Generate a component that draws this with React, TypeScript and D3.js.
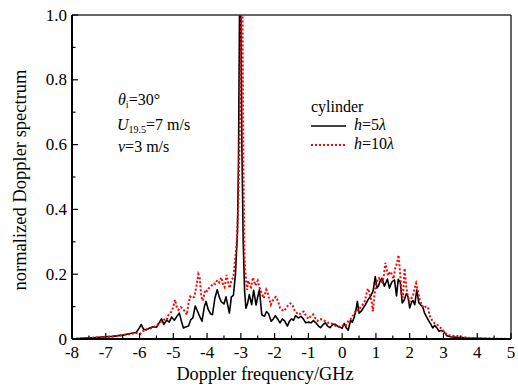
import React from "react";
import * as d3 from "d3";

const freq5 = [-8,-7.7,-7.4,-7.1,-6.8,-6.5,-6.3,-6.1,-6.0,-5.95,-5.88,-5.8,-5.7,-5.6,-5.5,-5.42,-5.35,-5.28,-5.2,-5.12,-5.05,-4.97,-4.88,-4.82,-4.76,-4.7,-4.62,-4.55,-4.48,-4.42,-4.35,-4.28,-4.22,-4.15,-4.08,-4.03,-3.97,-3.9,-3.84,-3.77,-3.7,-3.64,-3.58,-3.5,-3.44,-3.38,-3.34,-3.28,-3.22,-3.16,-3.1,-3.07,-3.04,-3.0,-2.97,-2.93,-2.89,-2.85,-2.8,-2.75,-2.68,-2.62,-2.55,-2.5,-2.45,-2.38,-2.3,-2.24,-2.18,-2.1,-2.04,-1.98,-1.9,-1.84,-1.77,-1.7,-1.62,-1.56,-1.5,-1.44,-1.38,-1.3,-1.22,-1.15,-1.08,-1.0,-0.92,-0.85,-0.78,-0.7,-0.64,-0.56,-0.5,-0.43,-0.36,-0.28,-0.2,-0.12,-0.05,0.0,0.06,0.12,0.18,0.25,0.3,0.36,0.41,0.45,0.5,0.56,0.62,0.69,0.75,0.8,0.86,0.92,0.98,1.03,1.08,1.12,1.18,1.25,1.3,1.34,1.4,1.44,1.48,1.55,1.61,1.66,1.72,1.78,1.84,1.9,1.95,2.0,2.06,2.1,2.15,2.21,2.27,2.33,2.38,2.44,2.5,2.57,2.63,2.68,2.74,2.8,2.87,2.95,3.02,3.1,3.2,3.4,3.7,4.0,4.5,5.0];
const spec5 = [0.0,0.002,0.004,0.006,0.008,0.012,0.016,0.02,0.035,0.045,0.03,0.028,0.034,0.038,0.036,0.05,0.062,0.045,0.058,0.052,0.068,0.058,0.072,0.08,0.055,0.034,0.038,0.04,0.06,0.065,0.102,0.085,0.07,0.055,0.1,0.116,0.092,0.078,0.075,0.125,0.152,0.13,0.115,0.108,0.13,0.1,0.08,0.13,0.135,0.2,0.33,0.55,1.0,1.0,0.6,0.3,0.15,0.095,0.11,0.137,0.106,0.15,0.105,0.13,0.152,0.075,0.07,0.085,0.078,0.055,0.062,0.072,0.06,0.05,0.062,0.055,0.04,0.055,0.062,0.058,0.072,0.065,0.07,0.062,0.05,0.052,0.05,0.057,0.05,0.04,0.035,0.045,0.05,0.04,0.035,0.045,0.045,0.038,0.036,0.033,0.048,0.035,0.027,0.058,0.052,0.068,0.09,0.116,0.08,0.085,0.095,0.106,0.118,0.126,0.135,0.15,0.193,0.157,0.165,0.178,0.188,0.163,0.175,0.185,0.157,0.168,0.177,0.182,0.133,0.184,0.176,0.111,0.121,0.14,0.13,0.096,0.115,0.118,0.106,0.152,0.112,0.105,0.1,0.08,0.068,0.055,0.045,0.034,0.042,0.035,0.024,0.026,0.022,0.01,0.007,0.005,0.003,0.002,0.001,0.0];

const freq10 = [-8,-7.7,-7.4,-7.1,-6.8,-6.5,-6.3,-6.1,-5.98,-5.9,-5.8,-5.7,-5.6,-5.5,-5.42,-5.35,-5.28,-5.2,-5.14,-5.05,-5.0,-4.95,-4.9,-4.85,-4.78,-4.72,-4.66,-4.6,-4.55,-4.5,-4.44,-4.38,-4.32,-4.26,-4.22,-4.17,-4.12,-4.06,-4.0,-3.95,-3.88,-3.82,-3.76,-3.7,-3.64,-3.58,-3.53,-3.48,-3.42,-3.37,-3.33,-3.28,-3.22,-3.17,-3.12,-3.08,-3.04,-2.99,-2.95,-2.92,-2.89,-2.86,-2.82,-2.78,-2.73,-2.7,-2.64,-2.57,-2.5,-2.46,-2.42,-2.36,-2.32,-2.25,-2.19,-2.15,-2.11,-2.06,-2.02,-1.96,-1.92,-1.88,-1.84,-1.78,-1.72,-1.66,-1.59,-1.53,-1.47,-1.4,-1.34,-1.28,-1.2,-1.14,-1.07,-1.0,-0.93,-0.86,-0.8,-0.73,-0.66,-0.58,-0.5,-0.42,-0.34,-0.26,-0.18,-0.1,-0.02,0.04,0.1,0.18,0.24,0.3,0.36,0.42,0.48,0.54,0.6,0.66,0.72,0.76,0.8,0.84,0.88,0.91,0.95,0.99,1.04,1.09,1.14,1.19,1.24,1.28,1.32,1.36,1.42,1.47,1.52,1.57,1.62,1.67,1.72,1.76,1.8,1.85,1.9,1.94,1.99,2.04,2.09,2.14,2.19,2.24,2.3,2.36,2.42,2.48,2.54,2.6,2.66,2.72,2.8,2.88,2.96,3.04,3.12,3.25,3.4,3.55,3.65,3.8,4.0,4.5,5.0];
const spec10 = [0.0,0.002,0.004,0.006,0.008,0.012,0.015,0.019,0.016,0.024,0.03,0.032,0.035,0.042,0.048,0.055,0.06,0.058,0.075,0.085,0.1,0.121,0.1,0.09,0.098,0.095,0.085,0.075,0.11,0.131,0.126,0.13,0.16,0.2,0.19,0.13,0.118,0.152,0.148,0.157,0.162,0.172,0.17,0.182,0.175,0.19,0.17,0.16,0.198,0.17,0.157,0.182,0.19,0.245,0.3,0.4,0.6,1.0,1.0,0.5,0.25,0.2,0.152,0.18,0.165,0.16,0.19,0.165,0.18,0.162,0.152,0.135,0.126,0.152,0.137,0.12,0.106,0.118,0.126,0.13,0.122,0.11,0.096,0.09,0.086,0.095,0.106,0.11,0.105,0.086,0.08,0.075,0.082,0.085,0.072,0.062,0.07,0.076,0.065,0.056,0.062,0.06,0.055,0.05,0.05,0.045,0.04,0.038,0.04,0.043,0.04,0.055,0.06,0.068,0.08,0.09,0.088,0.098,0.105,0.112,0.14,0.156,0.145,0.132,0.11,0.085,0.13,0.165,0.18,0.188,0.18,0.175,0.2,0.235,0.215,0.196,0.208,0.2,0.186,0.218,0.232,0.259,0.2,0.14,0.128,0.218,0.16,0.135,0.115,0.125,0.13,0.155,0.172,0.15,0.12,0.105,0.095,0.1,0.098,0.07,0.058,0.05,0.045,0.038,0.03,0.02,0.012,0.01,0.009,0.007,0.005,0.003,0.002,0.001,0.0];

const xTicks = [-8,-7,-6,-5,-4,-3,-2,-1,0,1,2,3,4,5];
const yTicks = [0, 0.2, 0.4, 0.6, 0.8, 1.0];
const yTickLabels = ["0", "0.2", "0.4", "0.6", "0.8", "1.0"];

const W = 518, H = 387;
const L = 72, R = 511, T = 15, B = 339;
const FONT = "Liberation Serif, Times New Roman, Times, serif";
const ts: React.CSSProperties = { fontFamily: FONT };

export default function App() {
  const x = d3.scaleLinear().domain([-8, 5]).range([L, R]);
  const y = d3.scaleLinear().domain([0, 1]).range([B, T]);
  const mk = (fs: number[], vs: number[]) =>
    d3.line<number>().x((d, i) => x(fs[i])).y((d) => y(d))(vs) || "";
  const p5 = mk(freq5, spec5);
  const p10 = mk(freq10, spec10);
  const xMinor = d3.range(-7.5, 5, 1);
  const yMinor = d3.range(0.1, 1.0, 0.2);
  return (
    <svg width={W} height={H} style={{ position: "absolute", left: 0, top: 0, background: "#fff", fontFamily: FONT }}>
      <defs>
        <clipPath id="clip">
          <rect x={L} y={T} width={R - L} height={B - T} />
        </clipPath>
      </defs>
      <g clipPath="url(#clip)">
        <path d={p5} fill="none" stroke="#000" strokeWidth={1.6} strokeLinejoin="round" />
        <path d={p10} fill="none" stroke="#ff0000" strokeWidth={2} strokeDasharray="2,2" />
      </g>
      <line x1={L} y1={T} x2={R} y2={T} stroke="#333" strokeWidth={1.5} />
      <line x1={R} y1={T} x2={R} y2={B} stroke="#333" strokeWidth={1.5} />
      <line x1={L} y1={B} x2={R} y2={B} stroke="#000" strokeWidth={2} />
      <line x1={L} y1={T} x2={L} y2={B} stroke="#000" strokeWidth={2} />
      {xTicks.map((t) => (
        <g key={"xt" + t}>
          <line x1={x(t)} x2={x(t)} y1={B} y2={B - 6} stroke="#000" strokeWidth={1.2} />
          <text style={ts} x={x(t)} y={358} fontSize={17} textAnchor="middle">{t < 0 ? "-" + Math.abs(t) : String(t)}</text>
        </g>
      ))}
      {xMinor.map((t) => (
        <line key={"xm" + t} x1={x(t)} x2={x(t)} y1={B} y2={B - 3.5} stroke="#000" strokeWidth={1.2} />
      ))}
      {yTicks.map((t, i) => (
        <g key={"yt" + t}>
          <line x1={L} x2={L + 6} y1={y(t)} y2={y(t)} stroke="#000" strokeWidth={1.2} />
          <text style={ts} x={67} y={y(t) + 5.5} fontSize={17} textAnchor="end">{yTickLabels[i]}</text>
        </g>
      ))}
      {yMinor.map((t) => (
        <line key={"ym" + t} x1={L} x2={L + 3.5} y1={y(t)} y2={y(t)} stroke="#000" strokeWidth={1.2} />
      ))}
      <text style={ts} x={265} y={380} fontSize={18.3} textAnchor="middle">Doppler frequency/GHz</text>
      <text style={ts} transform={`translate(26,180) rotate(-90)`} fontSize={18.5} textAnchor="middle">normalized Doppler spectrum</text>
      <text style={ts} x={118} y={105} fontSize={16}>
        <tspan fontStyle="italic">θ</tspan>
        <tspan fontSize={10} dy={3}>i</tspan>
        <tspan dy={-3}>=30°</tspan>
      </text>
      <text style={ts} x={117} y={130} fontSize={16}>
        <tspan fontStyle="italic">U</tspan>
        <tspan fontSize={10} dy={3}>19.5</tspan>
        <tspan dy={-3}>=7 m/s</tspan>
      </text>
      <text style={ts} x={118} y={152} fontSize={16}>
        <tspan fontStyle="italic">v</tspan>
        <tspan>=3 m/s</tspan>
      </text>
      <text style={ts} x={311} y={112} fontSize={16}>cylinder</text>
      <line x1={311} x2={346} y1={126} y2={126} stroke="#000" strokeWidth={1.6} />
      <text style={ts} x={354} y={130} fontSize={16}>
        <tspan fontStyle="italic">h</tspan>
        <tspan>=5</tspan>
        <tspan fontStyle="italic">λ</tspan>
      </text>
      <line x1={311} x2={346} y1={145} y2={145} stroke="#ff0000" strokeWidth={2} strokeDasharray="2,2" />
      <text style={ts} x={354} y={149} fontSize={16}>
        <tspan fontStyle="italic">h</tspan>
        <tspan>=10</tspan>
        <tspan fontStyle="italic">λ</tspan>
      </text>
    </svg>
  );
}
